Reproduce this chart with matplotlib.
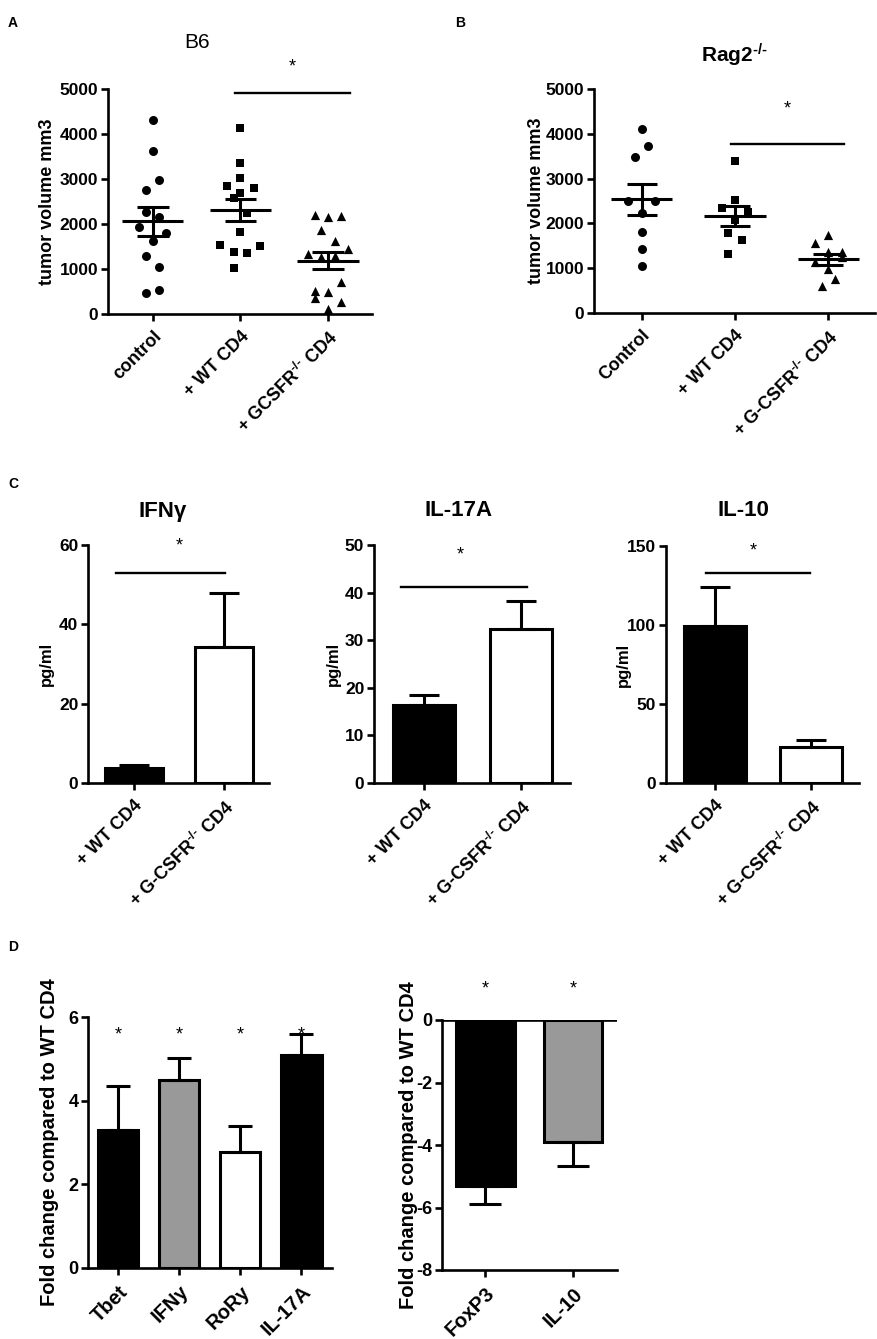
import numpy as np
import matplotlib
matplotlib.use('Agg')
import matplotlib.pyplot as plt

plt.rcParams['font.family'] = ['Liberation Sans', 'DejaVu Sans']
plt.rcParams['font.weight'] = 'bold'
plt.rcParams['axes.labelweight'] = 'bold'
plt.rcParams['axes.unicode_minus'] = False
plt.rcParams['mathtext.fontset'] = 'custom'
plt.rcParams['mathtext.rm'] = 'Liberation Sans:bold'
plt.rcParams['mathtext.bf'] = 'Liberation Sans:bold'
plt.rcParams['mathtext.default'] = 'bf'
plt.rcParams['axes.linewidth'] = 1.9

KO = r'$^{\text{-/-}}$'

# ---- panel A : B6 tumour volumes ----
a_groups = ['control', '+ WT CD4', '+ GCSFR' + KO + ' CD4']
a_control = [4300, 3630, 2985, 2755, 2260, 2150, 1940, 1790, 1620, 1300, 1050, 470, 530]
a_control_col = [0, 0, 1, -1, -1, 1, -2, 2, 0, -1, 1, -1, 1]
a_wt = [4126, 3356, 3030, 2844, 2793, 2681, 2570, 2250, 1830, 1533, 1519, 1385, 1363, 1015]
a_wt_col = [0, 0, 0, -2, 2, 0, -1, 1, 0, -3, 3, -1, 1, -1]
a_ko = [2200, 2148, 2185, 1867, 1630, 1444, 1326, 1274, 1289, 704, 511, 481, 348, 274, 104]
a_ko_col = [-2, 0, 2, -1, 1, 3, -3, -1, 1, 2, -2, 0, -2, 2, 0]

# ---- panel B : Rag2-/- tumour volumes ----
b_groups = ['Control', '+ WT CD4', '+ G-CSFR' + KO + ' CD4']
b_control = [4104, 3731, 3478, 2507, 2507, 2239, 1799, 1425, 1045]
b_control_col = [0, 1, -1, -2, 2, 0, 0, 0, 0]
b_wt = [3396, 2522, 2351, 2261, 2075, 1791, 1627, 1306]
b_wt_col = [0, 0, -2, 2, 0, -1, 1, -1]
b_ko = [1740, 1560, 1360, 1360, 1250, 1140, 980, 760, 600]
b_ko_col = [0, -2, 0, 2, 2, -2, 0, 1, -1]

# ---- panel C : cytokines ----
c_groups = ['+ WT CD4', '+ G-CSFR' + KO + ' CD4']
c_titles = ['IFNγ', 'IL-17A', 'IL-10']
c_mean = [[3.8, 34.3], [16.3, 32.3], [99.5, 22.9]]
c_sem = [[0.8, 13.7], [2.2, 5.9], [24.5, 4.2]]
c_ymax = [60, 50, 150]
c_ystep = [20, 10, 50]
c_colors = ['black', 'white']

# ---- panel D : fold change ----
d1_genes = ['Tbet', 'IFNy', 'RoRy', 'IL-17A']
d1_mean = [3.31, 4.50, 2.77, 5.10]
d1_sem = [1.03, 0.53, 0.62, 0.50]
d1_colors = ['black', '#999999', 'white', 'black']
d2_genes = ['FoxP3', 'IL-10']
d2_mean = [-5.31, -3.89]
d2_sem = [0.58, 0.78]
d2_colors = ['black', '#999999']

W, H = 878, 1339
fig = plt.figure(figsize=(W / 100, H / 100), dpi=100)


def box(x0, y0, x1, y1):
    return [x0 / W, 1 - y1 / H, (x1 - x0) / W, (y1 - y0) / H]


def ftext(x, y, s, **kw):
    fig.text(x / W, 1 - y / H, s, ha='center', va='center', **kw)


def style(ax, xrot_size=13, ysize=12.5):
    ax.spines['top'].set_visible(False)
    ax.spines['right'].set_visible(False)
    ax.tick_params(direction='out', length=5, width=1.9, labelsize=ysize, pad=2)
    ax.tick_params(axis='x', labelsize=xrot_size, pad=5)
    for lab in ax.get_xticklabels():
        lab.set_rotation(45)
        lab.set_ha('right')
        lab.set_va('top')
        lab.set_rotation_mode('anchor')


def sig(ax, x0, x1, y, xs, ys):
    ax.plot([x0, x1], [y, y], color='black', lw=1.7, clip_on=False)
    ax.text(xs, ys, '*', ha='center', va='center', fontsize=13, fontweight='normal', clip_on=False)


def scatter_panel(ax, groups, values, cols, spacing, mean_w, cap_w):
    markers = ['o', 's', '^']
    sizes = [42, 36, 44]
    for i, (vals, cc) in enumerate(zip(values, cols)):
        vals = np.array(vals, float)
        x = i + np.array(cc) * spacing
        ax.scatter(x, vals, marker=markers[i], s=sizes[i], color='black',
                   linewidths=0, zorder=3, clip_on=False)
        m = vals.mean()
        se = vals.std(ddof=1) / np.sqrt(len(vals))
        ax.hlines(m, i - mean_w / 2, i + mean_w / 2, color='black', lw=2.2, zorder=4)
        ax.hlines([m - se, m + se], i - cap_w / 2, i + cap_w / 2, color='black', lw=2.2, zorder=4)
        ax.vlines(i, m - se, m + se, color='black', lw=2.2, zorder=4)
    ax.set_xticks(range(len(groups)))
    ax.set_xticklabels(groups)
    ax.set_xlim(-0.51, 2.5)
    ax.set_ylim(0, 5000)
    ax.set_yticks(range(0, 5001, 1000))
    ax.set_ylabel('tumor volume mm3', fontsize=13, va='center')
    style(ax)


# A
axA = fig.add_axes(box(108, 89, 372, 314))
scatter_panel(axA, a_groups, [a_control, a_wt, a_ko], [a_control_col, a_wt_col, a_ko_col],
              0.076, 0.70, 0.36)
axA.yaxis.set_label_coords(-0.231, 0.5)
sig(axA, 0.94, 2.25, 4900, 1.59, 5500)
ftext(197, 43, 'B6', fontsize=15, fontweight='normal')
ftext(13, 23, 'A', fontsize=10)

# B
axB = fig.add_axes(box(594, 89, 875, 313))
scatter_panel(axB, b_groups, [b_control, b_wt, b_ko], [b_control_col, b_wt_col, b_ko_col],
              0.071, 0.66, 0.32)
axB.yaxis.set_label_coords(-0.203, 0.5)
sig(axB, 0.96, 2.17, 3770, 1.56, 4550)
ftext(734, 55, 'Rag2' + KO, fontsize=15)
ftext(460, 23, 'B', fontsize=10)

# C
c_boxes = [(88, 545, 269, 783), (374, 545, 570, 783), (666, 546, 859, 783)]
c_lab_x = [-0.227, -0.209, -0.223]
c_title_pos = [(163, 512), (459, 511), (743, 511)]
c_sig = [(-0.2, 1.01, 53, 0.5, 59.7), (-0.23, 1.06, 41.2, 0.37, 48), (-0.09, 0.99, 133, 0.4, 147)]
for k in range(3):
    ax = fig.add_axes(box(*c_boxes[k]))
    ax.bar(range(2), c_mean[k], width=0.64, color=c_colors, edgecolor='black', linewidth=2.2, zorder=2)
    ax.errorbar(range(2), c_mean[k], yerr=[[0, 0], c_sem[k]], fmt='none', ecolor='black',
                elinewidth=2.2, capsize=10.8, capthick=2.2, zorder=3)
    ax.set_xticks(range(2))
    ax.set_xticklabels(c_groups)
    ax.set_xlim(-0.51, 1.5)
    ax.set_ylim(0, c_ymax[k])
    ax.set_yticks(np.arange(0, c_ymax[k] + 1, c_ystep[k]))
    ax.set_ylabel('pg/ml', fontsize=12, va='center')
    ax.yaxis.set_label_coords(c_lab_x[k], 0.5)
    style(ax)
    sig(ax, *c_sig[k])
    ftext(*c_title_pos[k], c_titles[k], fontsize=16)
ftext(13, 484, 'C', fontsize=10)

# D left
axD1 = fig.add_axes(box(88, 1017, 332, 1268))
axD1.bar(range(4), d1_mean, width=0.66, color=d1_colors, edgecolor='black', linewidth=2.2, zorder=2)
axD1.errorbar(range(4), d1_mean, yerr=[[0] * 4, d1_sem], fmt='none', ecolor='black',
              elinewidth=2.2, capsize=8.6, capthick=2.2, zorder=3)
axD1.set_xticks(range(4))
axD1.set_xticklabels(d1_genes)
axD1.set_xlim(-0.49, 3.5)
axD1.set_ylim(0, 6)
axD1.set_yticks([0, 2, 4, 6])
axD1.set_ylabel('Fold change compared to WT CD4', fontsize=14.5, va='center')
axD1.yaxis.set_label_coords(-0.158, 0.5)
style(axD1, 14.5, 13)
for i in range(4):
    axD1.text(i, 5.57, '*', ha='center', va='center', fontsize=13, fontweight='normal')
ftext(13, 947, 'D', fontsize=10)

# D right
axD2 = fig.add_axes(box(442, 1020, 617, 1270))
axD2.bar(range(2), d2_mean, width=0.67, color=d2_colors, edgecolor='black', linewidth=2.2, zorder=2)
axD2.errorbar(range(2), d2_mean, yerr=[d2_sem, [0, 0]], fmt='none', ecolor='black',
              elinewidth=2.2, capsize=11.5, capthick=2.2, zorder=3)
axD2.axhline(0, color='black', lw=1.9, zorder=4)
axD2.set_xticks(range(2))
axD2.set_xticklabels(d2_genes)
axD2.set_xlim(-0.49, 1.5)
axD2.set_ylim(-8, 0)
axD2.set_yticks([-8, -6, -4, -2, 0])
axD2.set_ylabel('Fold change compared to WT CD4', fontsize=14.5, va='center')
axD2.yaxis.set_label_coords(-0.19, 0.5)
style(axD2, 14.5, 13)
for i in range(2):
    axD2.text(i, 1.0, '*', ha='center', va='center', fontsize=13, fontweight='normal', clip_on=False)

fig.savefig('out.png', dpi=100)
